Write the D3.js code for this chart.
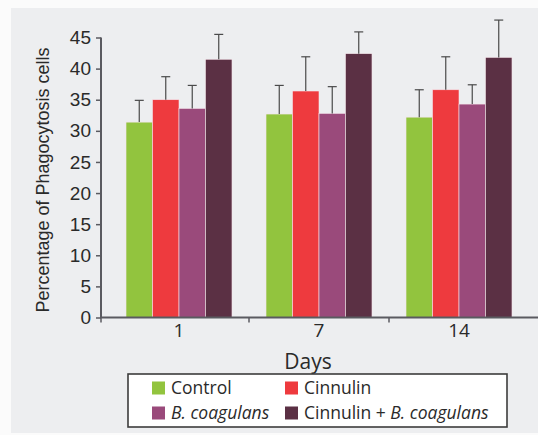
<!DOCTYPE html>
<html><head><meta charset="utf-8">
<script src="https://cdn.jsdelivr.net/npm/d3@7"></script>
<style>
html,body{margin:0;padding:0;background:#fbfbfb;}
svg{display:block;}
</style></head>
<body>
<script>
const days = ["1", "7", "14"];
const groups = ["Control", "Cinnulin", "B. coagulans", "Cinnulin + B. coagulans"];
const control    = [31.4, 32.7, 32.2];
const cinnulin   = [35.0, 36.4, 36.6];
const bcoag      = [33.6, 32.8, 34.3];
const combined   = [41.5, 42.4, 41.8];
const controlErr  = [3.5, 4.6, 4.4];
const cinnulinErr = [3.7, 5.5, 5.3];
const bcoagErr    = [3.7, 4.3, 3.1];
const combinedErr = [4.0, 3.5, 6.0];
const yTicks = [0, 5, 10, 15, 20, 25, 30, 35, 40, 45];
const colors = ["#92c43e", "#ee3a3e", "#9a4a7b", "#5b3044"];

const series = [control, cinnulin, bcoag, combined];
const errs = [controlErr, cinnulinErr, bcoagErr, combinedErr];
const rows = [];
days.forEach((d, i) => groups.forEach((g, j) => rows.push({day: d, group: g, v: series[j][i], e: errs[j][i], c: colors[j]})));

const W = 538, H = 435;
const svg = d3.select("body").append("svg").attr("width", W).attr("height", H);
svg.append("rect").attr("x", 11).attr("y", 8).attr("width", W - 11).attr("height", 425).attr("fill", "#edeef0");

const y = d3.scaleLinear().domain([0, 45]).range([317.5, 37.5]);
const x0 = d3.scaleBand().domain(days).range([109, 529]).paddingInner(0.243).paddingOuter(0.1215);
const x1 = d3.scaleBand().domain(groups).range([0, x0.bandwidth()]);
const axisX = 101;
const axisColor = "#5a5a60";

// bars
svg.append("g").selectAll("rect").data(rows).join("rect")
  .attr("x", d => x0(d.day) + x1(d.group))
  .attr("y", d => y(d.v))
  .attr("width", x1.bandwidth())
  .attr("height", d => y(0) - y(d.v))
  .attr("fill", d => d.c)
  .attr("stroke", "#f4e4ea").attr("stroke-width", 0.6);

// error bars
const eg = svg.append("g").attr("stroke", "#4a4a4a").attr("stroke-width", 1.2);
rows.forEach(d => {
  const cx = x0(d.day) + x1(d.group) + x1.bandwidth() / 2;
  eg.append("line").attr("x1", cx).attr("x2", cx).attr("y1", y(d.v)).attr("y2", y(d.v + d.e));
  eg.append("line").attr("x1", cx - 4.5).attr("x2", cx + 4.5).attr("y1", y(d.v + d.e)).attr("y2", y(d.v + d.e));
});

// y axis
const ya = svg.append("g").attr("transform", `translate(${axisX},0)`)
  .call(d3.axisLeft(y).tickValues(yTicks).tickSize(5).tickPadding(5));
ya.select(".domain").attr("stroke", axisColor).attr("stroke-width", 2).attr("d", `M0,${y(45)}V${y(0)}`);
ya.selectAll(".tick line").attr("stroke", axisColor).attr("stroke-width", 1.5);
ya.selectAll(".tick text").attr("font-family", "Liberation Sans, Arial, sans-serif").attr("font-size", 19).attr("fill", "#2a2a2a");

// x axis
svg.append("line").attr("x1", axisX - 1).attr("x2", W).attr("y1", y(0)).attr("y2", y(0))
  .attr("stroke", axisColor).attr("stroke-width", 2.2);
const bounds = [axisX, ...days.slice(1).map(d => x0(d) - x0.step() * x0.paddingInner() / 2)];
svg.append("g").selectAll("line").data(bounds).join("line")
  .attr("x1", d => d).attr("x2", d => d).attr("y1", y(0)).attr("y2", y(0) + 5)
  .attr("stroke", axisColor).attr("stroke-width", 1.5);
const xa = svg.append("g").attr("transform", `translate(0,${y(0)})`)
  .call(d3.axisBottom(x0).tickSize(0).tickPadding(6));
xa.select(".domain").remove();
xa.selectAll(".tick text").attr("font-family", "Open Sans, sans-serif").attr("font-size", 19).attr("fill", "#2a2a2a");

// axis titles
svg.append("text").attr("transform", "translate(49,180) rotate(-90)").attr("text-anchor", "middle")
  .attr("font-family", "Liberation Sans, Arial, sans-serif").attr("font-size", 18).attr("fill", "#2a2a2a")
  .text("Percentage of Phagocytosis cells");
svg.append("text").attr("x", 308).attr("y", 369).attr("text-anchor", "middle")
  .attr("font-family", "Open Sans, sans-serif").attr("font-size", 21).attr("fill", "#2a2a2a").text("Days");

// legend
const lg = svg.append("g");
lg.append("rect").attr("x", 128).attr("y", 374).attr("width", 379).attr("height", 53)
  .attr("fill", "#ffffff").attr("stroke", "#3c3c3c").attr("stroke-width", 1.6);
const legPos = [[152, 388], [285, 388], [152, 413], [285, 413]];
groups.forEach((g, j) => {
  const [lx, ly] = legPos[j];
  lg.append("rect").attr("x", lx).attr("y", ly - 6.5).attr("width", 13).attr("height", 13).attr("fill", colors[j]);
  const t = lg.append("text").attr("x", lx + 19).attr("y", ly).attr("dy", "0.35em")
    .attr("font-family", "Open Sans, sans-serif").attr("font-size", 17.5).attr("fill", "#2a2a2a");
  if (g === "B. coagulans") {
    t.append("tspan").attr("font-style", "italic").text("B. coagulans");
  } else if (g === "Cinnulin + B. coagulans") {
    t.append("tspan").text("Cinnulin + ");
    t.append("tspan").attr("font-style", "italic").text("B. coagulans");
  } else {
    t.text(g);
  }
});
</script>
</body></html>
